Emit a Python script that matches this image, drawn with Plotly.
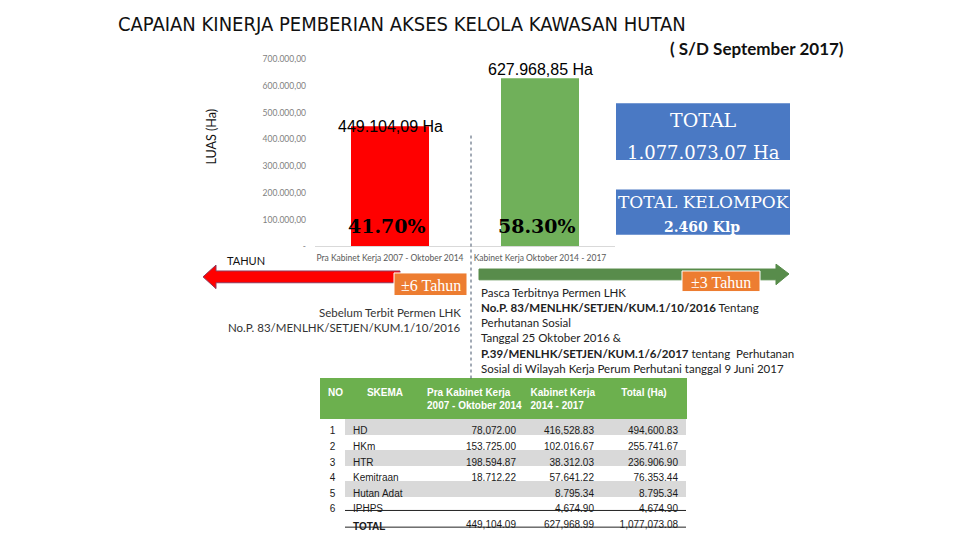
import plotly.graph_objects as go

W, H = 960, 540


def X(px):
    return px / W


def Y(py):
    return 1 - py / H


# ---------------- data ----------------
title_text = "CAPAIAN KINERJA PEMBERIAN AKSES KELOLA KAWASAN HUTAN"
subtitle_text = "( S/D September 2017)"
y_title = "LUAS (Ha)"

periods = ["Pra Kabinet Kerja 2007 - Oktober 2014", "Kabinet Kerja Oktober 2014 - 2017"]
luas = [449104.09, 627968.85]
luas_labels = ["449.104,09 Ha", "627.968,85 Ha"]
bar_colors = ["#FF0000", "#70B05A"]

y_ticks = [0, 100000, 200000, 300000, 400000, 500000, 600000, 700000]
y_tick_labels = ["-", "100.000,00", "200.000,00", "300.000,00", "400.000,00",
                 "500.000,00", "600.000,00", "700.000,00"]

total_title = "TOTAL"
total_luas_label = "1.077.073,07 Ha"
kelompok_title = "TOTAL KELOMPOK"
kelompok_label = "2.460 Klp"

timeline_label = "TAHUN"
durations = ["±6 Tahun", "±3 Tahun"]

left_notes = ["Sebelum Terbit Permen LHK", "No.P. 83/MENLHK/SETJEN/KUM.1/10/2016"]
right_notes = [
    "Pasca Terbitnya Permen LHK",
    "<b>No.P. 83/MENLHK/SETJEN/KUM.1/10/2016</b> Tentang",
    "Perhutanan Sosial",
    "Tanggal 25 Oktober 2016 &",
    "<b>P.39/MENLHK/SETJEN/KUM.1/6/2017</b> tentang  Perhutanan",
    "Sosial di Wilayah Kerja Perum Perhutani tanggal 9 Juni 2017",
]

table_header = ["NO", "SKEMA", "Pra Kabinet Kerja<br>2007 - Oktober 2014",
                "Kabinet Kerja<br>2014 - 2017", "Total (Ha)"]
no_col = ["1", "2", "3", "4", "5", "6", ""]
skema = ["HD", "HKm", "HTR", "Kemitraan", "Hutan Adat", "IPHPS", "<b>TOTAL</b>"]
pra_kabinet = [78072.00, 153725.00, 198594.87, 18712.22, None, None, 449104.09]
kabinet = [416528.83, 102016.67, 38312.03, 57641.22, 8795.34, 4674.90, 627968.99]
total_ha = [494600.83, 255741.67, 236906.90, 76353.44, 8795.34, 4674.90, 1077073.08]


def fmt(v):
    return "" if v is None else f"{v:,.2f}"


# ---------------- figure ----------------
fig = go.Figure()

fig.add_trace(go.Bar(
    x=periods, y=luas, marker=dict(color=bar_colors, line=dict(width=0)),
    width=0.52, hoverinfo="skip", showlegend=False,
))

# table
n_rows = len(skema)
gray, white = "#D9D9D9", "#FFFFFF"
row_fill = [gray if (i % 2 == 0 and i < 6) else white for i in range(n_rows)]
fig.add_trace(go.Table(
    domain=dict(x=[X(320), X(686)], y=[Y(540), Y(381)]),
    columnwidth=[25, 80, 99, 78, 84],
    header=dict(
        values=[f"<b>{h}</b>" for h in table_header],
        fill_color="#6CB04E", line_color="#6CB04E",
        font=dict(family="Liberation Sans, Arial", size=10, color="white"),
        align=["left", "center", "center", "center", "center"], height=33,
    ),
    cells=dict(
        values=[no_col, skema, [fmt(v) for v in pra_kabinet],
                [fmt(v) for v in kabinet], [fmt(v) for v in total_ha]],
        fill_color=[[white] * n_rows, row_fill, row_fill, row_fill, row_fill],
        line=dict(color="rgba(0,0,0,0)", width=0),
        font=dict(family="Liberation Sans, Arial", size=10, color="#1A1A1A"),
        align=["center", "left", "right", "right", "right"], height=15.6,
    ),
))

shapes = []
annotations = []


def ann(x, y, text, size, family="Lato", color="#111111", xanchor="center",
        yanchor="middle", **kw):
    d = dict(xref="paper", yref="paper", x=x, y=y, text=text, showarrow=False,
             xanchor=xanchor, yanchor=yanchor,
             font=dict(family=family, size=size, color=color))
    d.update(kw)
    return d


# total row rules
for py in (515, 532):
    shapes.append(dict(type="line", xref="paper", yref="paper", x0=X(345), x1=X(686),
                       y0=Y(py), y1=Y(py), line=dict(color="#222222", width=1)))

# dotted divider
shapes.append(dict(type="line", xref="paper", yref="paper", x0=X(471), x1=X(471),
                   y0=Y(133), y1=Y(381), line=dict(color="#44546A", width=1, dash="dot")))


def path(points):
    return "M " + " L ".join(f"{X(a):.5f},{Y(b):.5f}" for a, b in points) + " Z"


# red arrow (left)
shapes.append(dict(type="path", xref="paper", yref="paper",
                   path=path([(203, 277), (216, 265), (216, 271), (400, 271), (400, 283),
                              (216, 283), (216, 289)]),
                   fillcolor="#FF0000", line=dict(color="#8E3A5C", width=1)))
# green arrow (right)
shapes.append(dict(type="path", xref="paper", yref="paper",
                   path=path([(479, 269), (776, 269), (776, 264), (789, 274), (776, 285),
                              (776, 280), (479, 280)]),
                   fillcolor="#588C4B", line=dict(color="#588C4B", width=1)))

# orange duration boxes
dur_boxes = [(394, 273, 467, 296), (682, 271, 760, 292)]
for (x0, y0, x1, y1), txt in zip(dur_boxes, durations):
    shapes.append(dict(type="rect", xref="paper", yref="paper", x0=X(x0), x1=X(x1),
                       y0=Y(y1), y1=Y(y0), fillcolor="#ED7D31",
                       line=dict(color="white", width=1)))
    annotations.append(ann(X((x0 + x1) / 2), Y((y0 + y1) / 2 + 1), txt, 16,
                           family="Liberation Serif", color="white"))

# blue total boxes
shapes.append(dict(type="rect", xref="paper", yref="paper", x0=X(616), x1=X(790),
                   y0=Y(158), y1=Y(100), fillcolor="#4A79C4", line=dict(width=0)))
shapes.append(dict(type="rect", xref="paper", yref="paper", x0=X(616), x1=X(790),
                   y0=Y(234), y1=Y(188), fillcolor="#4A79C4", line=dict(width=0)))
annotations += [
    ann(X(703), Y(117), total_title, 19, family="DejaVu Serif", color="white"),
    ann(X(703), Y(150), total_luas_label, 18, family="DejaVu Serif", color="white"),
    ann(X(703), Y(201), kelompok_title, 17, family="DejaVu Serif", color="white"),
    ann(X(702), Y(226), f"<b>{kelompok_label}</b>", 14, family="DejaVu Serif", color="white"),
]

# bar value labels and shares
total_luas = sum(luas)
label_shift = [0, -2]
label_anchor = ["middle", "bottom"]
for i, (p, v, lab) in enumerate(zip(periods, luas, luas_labels)):
    annotations.append(dict(x=p, y=v, xref="x", yref="y", text=lab, showarrow=False,
                            xanchor="center", yanchor=label_anchor[i], yshift=label_shift[i],
                            font=dict(family="Liberation Sans Narrow, Liberation Sans",
                                      size=16, color="black")))
    annotations.append(dict(x=p, y=0, xref="x", yref="y",
                            text=f"<b>{v / total_luas * 100:.2f}%</b>",
                            showarrow=False, xanchor="center", yanchor="middle",
                            yshift=20, xshift=-3,
                            font=dict(family="DejaVu Serif", size=19, color="black")))

# titles
annotations += [
    ann(X(116), Y(19), title_text, 20, family="DejaVu Sans Condensed, Liberation Sans Narrow",
        xanchor="left"),
    ann(X(846), Y(44), f"<b>{subtitle_text}</b>", 17, xanchor="right"),
    ann(X(212), Y(134), y_title, 12.5, textangle=-90),
    ann(X(225), Y(260), timeline_label, 11, xanchor="left"),
]

for i, line in enumerate(left_notes):
    annotations.append(ann(X(463), Y(313 + i * 15.4), line, 11.5, color="#333333",
                           xanchor="right"))
for i, line in enumerate(right_notes):
    annotations.append(ann(X(479), Y(293 + i * 15.4), line, 11.5, color="#222222",
                           xanchor="left"))

fig.update_layout(
    width=W, height=H, margin=dict(l=0, r=0, t=0, b=0),
    paper_bgcolor="white", plot_bgcolor="white",
    shapes=shapes, annotations=annotations, showlegend=False,
    xaxis=dict(domain=[X(315), X(615)], range=[-0.5, 1.5], showgrid=False,
               showline=True, linecolor="#D9D9D9", linewidth=1, ticks="",
               ticklabelstandoff=3,
               tickfont=dict(family="Lato", size=8.5, color="#595959"), fixedrange=True),
    yaxis=dict(domain=[Y(246), Y(55)], range=[0, 700000], tickvals=y_ticks,
               ticktext=y_tick_labels, showgrid=False, zeroline=False, showline=False,
               ticks="", ticklabelstandoff=8,
               tickfont=dict(family="Lato", size=8.5, color="#7F7F7F"), fixedrange=True),
)

fig.write_html("out.html", config={"displayModeBar": False},
               post_script="document.body.style.margin='0px';")
